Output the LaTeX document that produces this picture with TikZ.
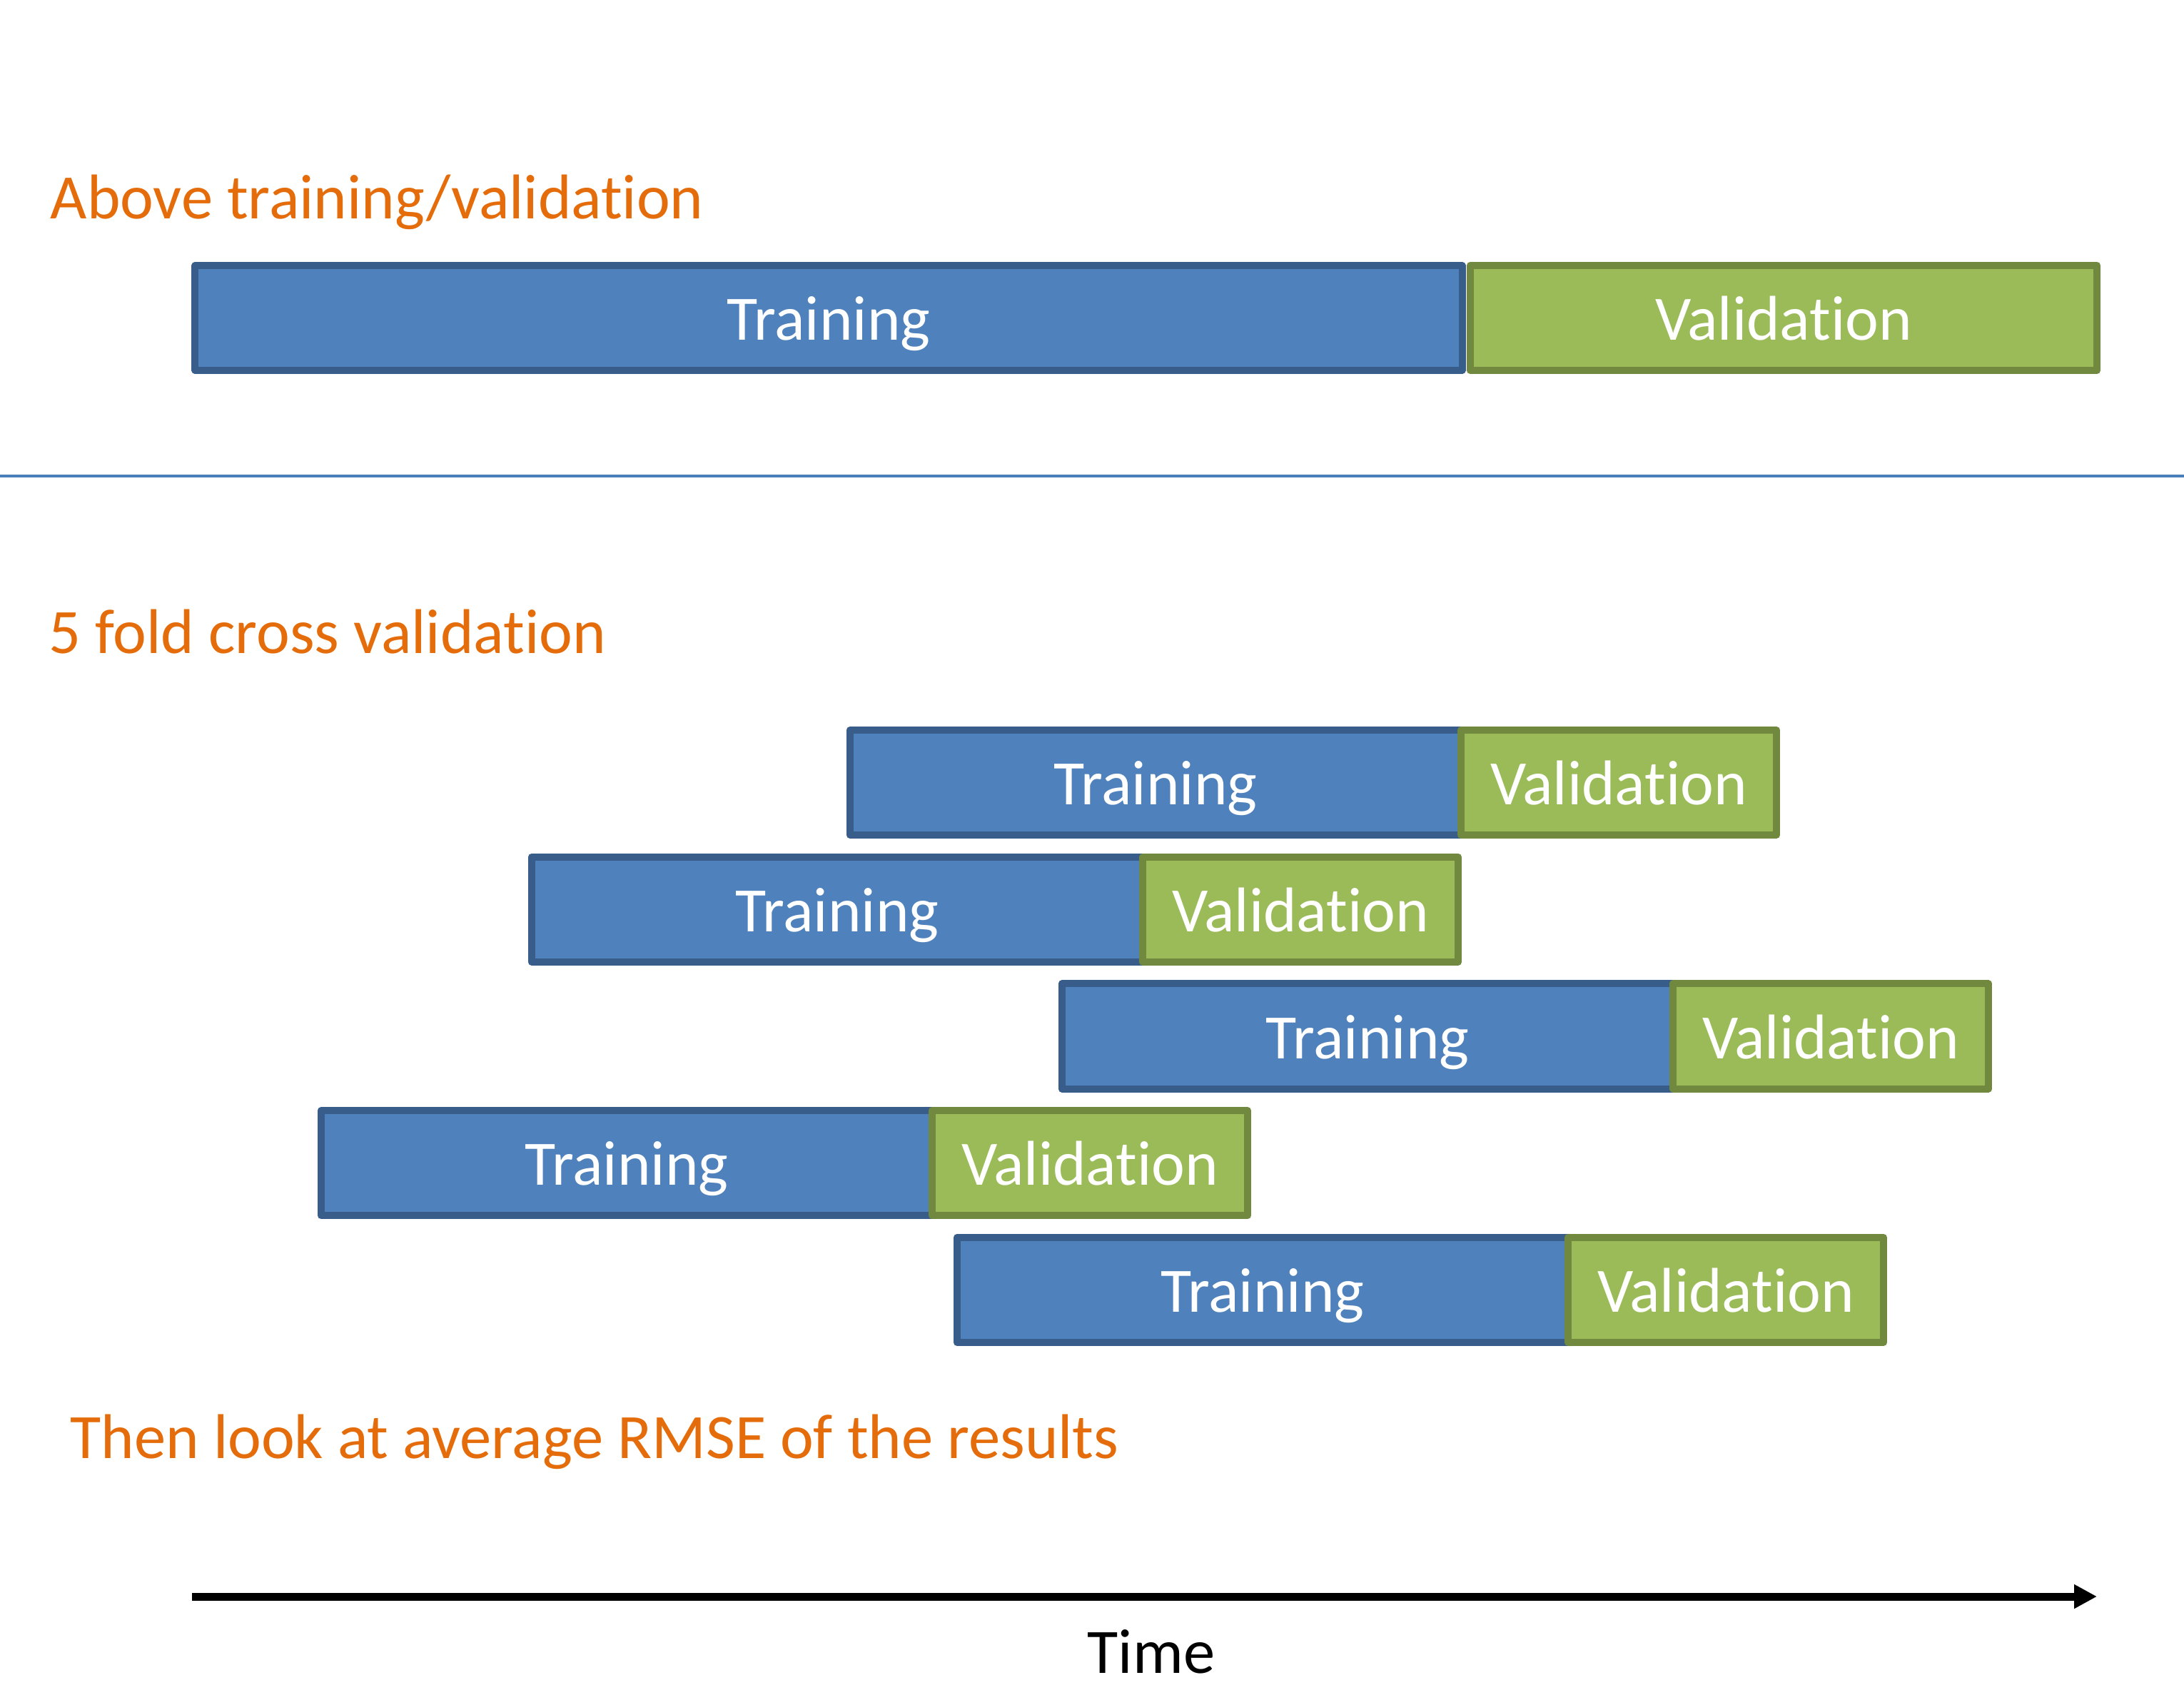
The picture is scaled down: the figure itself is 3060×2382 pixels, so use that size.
\documentclass[tikz,border=0pt]{standalone}
\usepackage{fontspec}
\setmainfont{Carlito}[Ligatures=NoCommon]
\usetikzlibrary{arrows.meta}
\definecolor{tfill}{HTML}{4F81BD}
\definecolor{tdraw}{HTML}{385D8A}
\definecolor{vfill}{HTML}{9BBB59}
\definecolor{vdraw}{HTML}{71893F}
\definecolor{orng}{HTML}{E46C0A}
\definecolor{sepline}{HTML}{4A7EBB}
\begin{document}
\begin{tikzpicture}[x=0.01cm,y=-0.01cm,
 barbox/.style={rectangle, line width=0.1cm, line join=round, inner sep=0pt, minimum height=1.47cm, text=white, font=\fontsize{25.2}{30}\selectfont, text height=0.62cm, text depth=0cm},
 trainbox/.style={barbox, fill=tfill, draw=tdraw, minimum width=8.56cm},
 valbox/.style={barbox, fill=vfill, draw=vdraw, minimum width=4.42cm},
 heading/.style={anchor=base west, inner sep=0pt, text=orng, font=\fontsize{25.2}{30}\selectfont}]
\useasboundingbox (0,0) rectangle (3060,2382);
\node[heading] (h1) at (70,307) {Above training/validation};
\node[trainbox, minimum width=17.74cm] (t0) at (1161,445.5) {Training};
\node[valbox, minimum width=8.78cm] (v0) at (2499,445.5) {Validation};
\coordinate (sepL) at (0,666.5);
\coordinate (sepR) at (3060,666.5);
\draw[sepline, line width=0.04cm] (sepL) -- (sepR);
\node[heading] (h2) at (68,915) {5 fold cross validation};
\foreach \i/\L in {1/1186,2/740,3/1483,4/445,5/1336} {
  \pgfmathsetmacro\cy{1018+177.75*(\i-1)+78.5}
  \node[trainbox] (t\i) at (\L+433,\cy) {Training};
  \node[valbox] (v\i) at (\L+1082,\cy) {Validation};
}
\node[heading] (h3) at (98,2043) {Then look at average RMSE of the results};
\coordinate (aS) at (269,2237);
\coordinate (aE) at (2938,2237);
\draw[line width=0.11cm, -{Triangle[length=0.32cm,width=0.32cm]}] (aS) -- (aE);
\node[anchor=base, inner sep=0pt, font=\fontsize{25.2}{30}\selectfont, text=black] (time) at (1613,2344) {Time};
\end{tikzpicture}
\end{document}
